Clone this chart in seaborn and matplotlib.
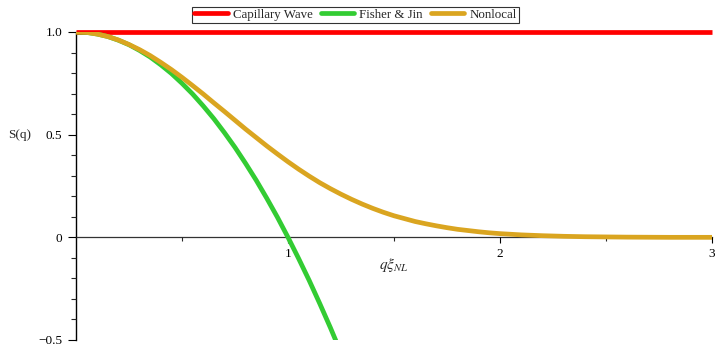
import matplotlib
matplotlib.use("Agg")
import matplotlib.pyplot as plt
import seaborn as sns
import pandas as pd
from matplotlib.ticker import MultipleLocator, FixedLocator

sns.set_style("white")
plt.rcParams['font.family'] = ['Liberation Serif', 'DejaVu Serif']
plt.rcParams['mathtext.fontset'] = 'stix'

# Data
q_cap = [0.0, 3.0]
s_cap = [1.0, 1.0]

q_fj = [0.0, 0.05, 0.1, 0.15, 0.2, 0.25, 0.3, 0.35, 0.4, 0.45, 0.5, 0.55, 0.6, 0.65,
        0.7, 0.75, 0.8, 0.85, 0.9, 0.95, 1.0, 1.05, 1.1, 1.15, 1.2, 1.25]
s_fj = [1.000, 0.998, 0.990, 0.978, 0.960, 0.938, 0.910, 0.878, 0.840, 0.798, 0.750,
        0.698, 0.640, 0.578, 0.510, 0.438, 0.360, 0.278, 0.190, 0.098, 0.000, -0.103,
        -0.210, -0.323, -0.440, -0.563]

q_nl = [0.0, 0.05, 0.1, 0.15, 0.2, 0.25, 0.3, 0.35, 0.4, 0.45, 0.5, 0.55, 0.6, 0.65,
        0.7, 0.75, 0.8, 0.85, 0.9, 0.95, 1.0, 1.05, 1.1, 1.15, 1.2, 1.25, 1.3, 1.35,
        1.4, 1.45, 1.5, 1.55, 1.6, 1.65, 1.7, 1.75, 1.8, 1.85, 1.9, 1.95, 2.0, 2.1,
        2.2, 2.3, 2.4, 2.5, 2.6, 2.8, 3.0]
s_nl = [1.000, 0.998, 0.990, 0.978, 0.961, 0.939, 0.914, 0.885, 0.852, 0.817, 0.779,
        0.739, 0.698, 0.655, 0.613, 0.570, 0.527, 0.486, 0.445, 0.406, 0.368, 0.332,
        0.298, 0.266, 0.237, 0.210, 0.185, 0.162, 0.141, 0.122, 0.105, 0.091, 0.077,
        0.066, 0.056, 0.047, 0.039, 0.033, 0.027, 0.022, 0.018, 0.012, 0.008, 0.005,
        0.003, 0.002, 0.001, 0.000, 0.000]

series = ["Capillary Wave", "Fisher & Jin", "Nonlocal"]
colors = ["#ff0000", "#33cc33", "#daa520"]

df = pd.concat([
    pd.DataFrame({"q": q_cap, "S": s_cap, "model": series[0]}),
    pd.DataFrame({"q": q_fj, "S": s_fj, "model": series[1]}),
    pd.DataFrame({"q": q_nl, "S": s_nl, "model": series[2]}),
])

fig = plt.figure(figsize=(7.15, 3.46), dpi=100)
ax = fig.add_axes([76/715, 1 - 340/346, (712 - 76)/715, (340 - 32)/346])

sns.lineplot(data=df, x="q", y="S", hue="model", palette=dict(zip(series, colors)),
             linewidth=3.4, ax=ax, sort=False, estimator=None, legend=False)
# red line is not clipped at the top edge
ax.lines[0].set_clip_on(False)
for ln in ax.lines:
    ln.set_solid_capstyle("butt")
    ln.set_solid_joinstyle("round")

ax.set_xlim(0, 3)
ax.set_ylim(-0.5, 1.0)

for s in ["top", "right"]:
    ax.spines[s].set_visible(False)
ax.spines["left"].set_position(("data", 0))
ax.spines["bottom"].set_position(("data", 0))
ax.spines["left"].set_color("black")
ax.spines["bottom"].set_color("#333333")
ax.spines["left"].set_linewidth(1.0)
ax.spines["bottom"].set_linewidth(0.9)
ax.spines["left"].set_zorder(0.5)
ax.spines["bottom"].set_zorder(0.5)

ax.xaxis.set_major_locator(FixedLocator([1, 2, 3]))
ax.xaxis.set_minor_locator(FixedLocator([0.5, 1.5, 2.5]))
ax.set_xticklabels(["1", "2", "3"])
ax.yaxis.set_major_locator(FixedLocator([-0.5, 0, 0.5, 1.0]))
ax.yaxis.set_minor_locator(MultipleLocator(0.1))
ax.set_yticklabels(["\u22120.5", "0", "0.5", "1.0"])

ax.tick_params(axis="y", which="major", direction="out", length=6, width=0.8,
               labelsize=9.5, colors="black", pad=4, left=True)
ax.tick_params(axis="y", which="minor", direction="out", length=3.5, width=0.8,
               left=True)
ax.tick_params(axis="x", which="major", direction="out", length=4, width=0.8,
               labelsize=9.5, colors="black", pad=4, bottom=True)
ax.tick_params(axis="x", which="minor", direction="out", length=3, width=0.8,
               bottom=True)

ax.set_xlabel("")
ax.set_ylabel("")
ax.text(1.5, -0.135, r"$q\xi_{NL}$", ha="center", va="center", fontsize=11)
fig.text(20/715, 1 - 135/346, "S(q)", ha="center", va="center", fontsize=9.5)

handles = [plt.Line2D([], [], color=c, lw=3.4) for c in colors]
leg = fig.legend(handles, series, loc="center", bbox_to_anchor=(355.5/715, 1 - 15/346),
                 ncol=3, frameon=True, fancybox=False, edgecolor="black",
                 fontsize=9.3, handlelength=2.6, handletextpad=0.4, columnspacing=0.6,
                 borderpad=0.15, borderaxespad=0)
leg.get_frame().set_linewidth(0.8)

fig.savefig("out.png", dpi=100)
